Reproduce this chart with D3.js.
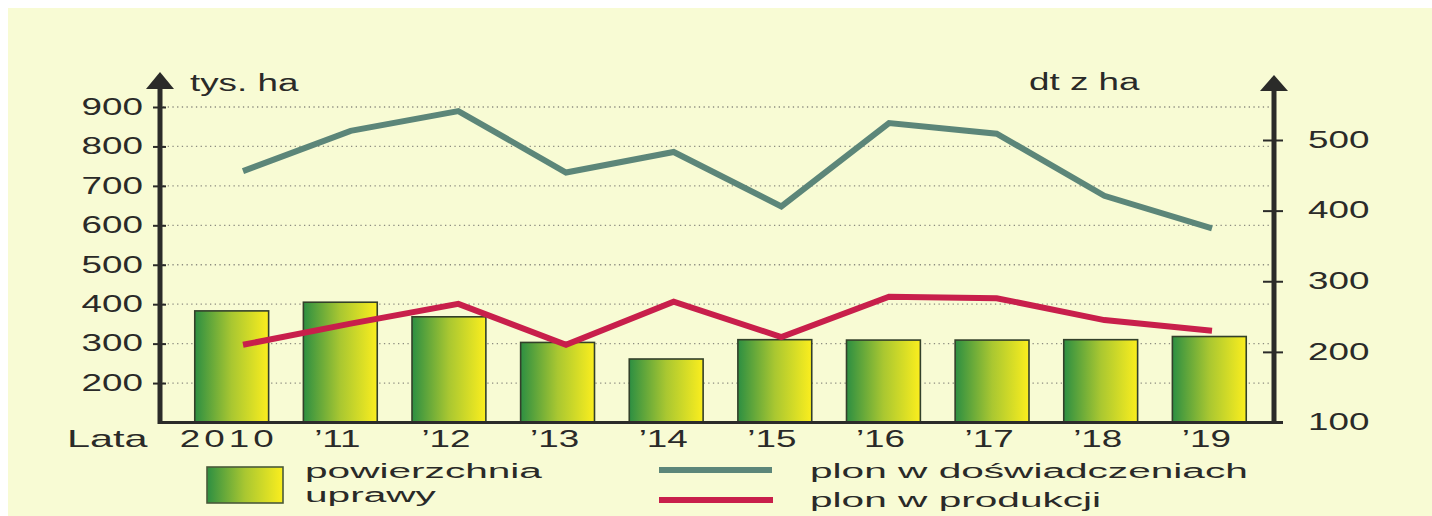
<!DOCTYPE html>
<html>
<head>
<meta charset="utf-8">
<script src="https://d3js.org/d3.v7.min.js"></script>
<style>
  body { margin: 0; background: #fff; }
  svg text { font-family: "Liberation Sans", Arial, sans-serif; fill: #2a2a28; }
</style>
</head>
<body>
<svg id="chart" width="1432" height="516"></svg>
<script>
// Values
var years = ["2010", "\u201911", "\u201912", "\u201913", "\u201914", "\u201915", "\u201916", "\u201917", "\u201918", "\u201919"];
var area = [383, 405, 368, 303, 261, 310, 309, 309, 310, 318];             // tys. ha (left axis)
var yieldTrials = [456, 513, 541, 454, 483, 406, 524, 509, 421, 375];      // dt z ha (right axis)
var yieldProduction = [210, 240, 268, 210, 271, 221, 278, 276, 245, 230];  // dt z ha (right axis)
var leftTicks = [200, 300, 400, 500, 600, 700, 800, 900];
var rightTicks = [100, 200, 300, 400, 500];

// The source picture is stretched sideways, so text gets a horizontal scale
var SX = 1.6;
var SXL = 2.03;
var axisColor = "#2b2b29";
var teal = "#5c8679";
var red = "#c81f4b";

var svg = d3.select("#chart");

svg.append("rect")
  .attr("x", 8).attr("y", 8)
  .attr("width", 1432).attr("height", 516)
  .attr("fill", "#f8fbd4");

var defs = svg.append("defs");
var grad = defs.append("linearGradient").attr("id", "barGrad")
  .attr("x1", "0%").attr("x2", "100%").attr("y1", "0%").attr("y2", "0%");
grad.append("stop").attr("offset", "0%").attr("stop-color", "#2d8f42");
grad.append("stop").attr("offset", "50%").attr("stop-color", "#a9c731");
grad.append("stop").attr("offset", "100%").attr("stop-color", "#fbee1e");

// Scales
var yL = d3.scaleLinear().domain([100, 900]).range([422.5, 107]);
var yR = d3.scaleLinear().domain([100, 500]).range([422.5, 140]);
var x = d3.scaleBand().domain(years).range([160, 1281]).padding(0.32);
var xp = d3.scalePoint().domain(years).range([243, 1212]);

// dotted grid from the left axis ticks
svg.append("g").selectAll("line").data(leftTicks).enter().append("line")
  .attr("x1", 163).attr("x2", 1272)
  .attr("y1", function(d) { return yL(d); })
  .attr("y2", function(d) { return yL(d); })
  .attr("stroke", "#8d8d80")
  .attr("stroke-width", 1.3)
  .attr("stroke-dasharray", "1.3 3.4");

// bars
svg.append("g").selectAll("rect").data(area).enter().append("rect")
  .attr("x", function(d, i) { return x(years[i]); })
  .attr("y", function(d) { return yL(d); })
  .attr("width", x.bandwidth())
  .attr("height", function(d) { return yL(100) - yL(d); })
  .attr("fill", "url(#barGrad)")
  .attr("stroke", "#33402a")
  .attr("stroke-width", 1.6);

// lines
var lineR = d3.line()
  .x(function(d, i) { return xp(years[i]); })
  .y(function(d) { return yR(d); });

svg.append("path").datum(yieldTrials)
  .attr("d", lineR)
  .attr("fill", "none")
  .attr("stroke", teal)
  .attr("stroke-width", 6);

svg.append("path").datum(yieldProduction)
  .attr("d", lineR)
  .attr("fill", "none")
  .attr("stroke", red)
  .attr("stroke-width", 6);

// left axis
var gl = svg.append("g")
  .attr("transform", "translate(160,0)")
  .call(d3.axisLeft(yL).tickValues(leftTicks).tickSize(7).tickPadding(0));
gl.select(".domain").remove();
gl.selectAll(".tick line").attr("x1", 6).attr("stroke", axisColor).attr("stroke-width", 2);
gl.selectAll(".tick text")
  .attr("x", -17 / SX)
  .attr("transform", "scale(" + SX + ",1)")
  .attr("font-size", 23)
  .attr("font-family", "Liberation Sans, Arial, sans-serif")
  .attr("fill", "#2a2a28");

// right axis
var gr = svg.append("g")
  .attr("transform", "translate(1274,0)")
  .call(d3.axisRight(yR).tickValues(rightTicks).tickSize(9).tickPadding(0));
gr.select(".domain").remove();
gr.selectAll(".tick line").attr("x1", -11).attr("stroke", axisColor).attr("stroke-width", 2);
gr.selectAll(".tick").filter(function(d) { return d === 100; }).select("line").remove();
gr.selectAll(".tick text")
  .attr("x", 34 / SX)
  .attr("transform", "scale(" + SX + ",1)")
  .attr("font-size", 23)
  .attr("font-family", "Liberation Sans, Arial, sans-serif")
  .attr("fill", "#2a2a28");

// axis lines with arrows
svg.append("line").attr("x1", 158).attr("x2", 1283)
  .attr("y1", yL(100)).attr("y2", yL(100))
  .attr("stroke", axisColor).attr("stroke-width", 3);
svg.append("line").attr("x1", 160).attr("x2", 160)
  .attr("y1", yL(100) + 1.5).attr("y2", 86)
  .attr("stroke", axisColor).attr("stroke-width", 5);
svg.append("line").attr("x1", 1274).attr("x2", 1274)
  .attr("y1", yL(100) + 1.5).attr("y2", 89)
  .attr("stroke", axisColor).attr("stroke-width", 5);
svg.append("path").attr("d", "M146,89L174,89L160,72Z").attr("fill", axisColor);
svg.append("path").attr("d", "M1260,91L1288,91L1274,75Z").attr("fill", axisColor);

// helper for stretched text
function label(txt, px, py, size, sx, anchor) {
  return svg.append("text")
    .attr("transform", "translate(" + px + "," + py + ") scale(" + sx + ",1)")
    .attr("font-size", size)
    .attr("text-anchor", anchor || "start")
    .text(txt);
}

label("tys. ha", 190, 91, 23, SX);
label("dt z ha", 1029, 90, 23, SX);
label("Lata", 67, 447, 23, 1.8);

// year labels
svg.append("g").selectAll("text").data(years).enter().append("text")
  .attr("transform", function(d) {
    return "translate(" + (x(d) + x.bandwidth() / 2 - 3) + ",447) scale(" + SX + ",1)";
  })
  .attr("font-size", 23)
  .attr("text-anchor", "middle")
  .attr("letter-spacing", function(d, i) { return i === 0 ? 2.5 : 0; })
  .text(function(d) { return d; });

// legend
svg.append("rect")
  .attr("x", 207).attr("y", 467).attr("width", 76).attr("height", 36)
  .attr("fill", "url(#barGrad)")
  .attr("stroke", "#4a5a3a").attr("stroke-width", 1.6);
label("powierzchnia", 305, 478, 20, SXL);
label("uprawy", 305, 501.5, 20, SXL);

svg.append("line").attr("x1", 659).attr("x2", 772).attr("y1", 470).attr("y2", 470)
  .attr("stroke", teal).attr("stroke-width", 6);
svg.append("line").attr("x1", 659).attr("x2", 773).attr("y1", 500).attr("y2", 500)
  .attr("stroke", red).attr("stroke-width", 6);
label("plon w do\u015bwiadczeniach", 810, 478, 20, SXL);
label("plon w produkcji", 810, 507, 20, SXL);
</script>
</body>
</html>
